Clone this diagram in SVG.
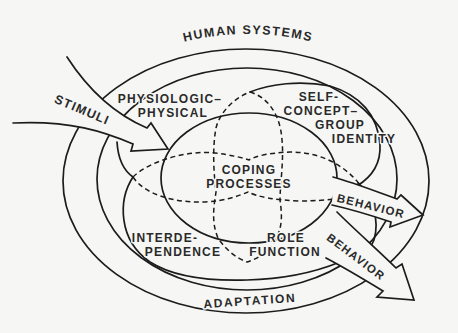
<svg xmlns="http://www.w3.org/2000/svg" width="458" height="333" viewBox="0 0 458 333">
<style>
.ln{fill:none;stroke:#1c1c1c;stroke-width:1.7;stroke-linecap:round}
.ds{fill:none;stroke:#1c1c1c;stroke-width:1.5;stroke-dasharray:5 3.5}
.msk{fill:#f6f6f4;stroke:none}
.lb{font-family:"Liberation Sans",Arial,sans-serif;font-size:12px;font-weight:bold;fill:#2a2a2a;letter-spacing:1.2px;text-anchor:middle;stroke:#f6f6f4;stroke-width:3px;paint-order:stroke;stroke-linejoin:round}
</style>
<rect width="458" height="333" fill="#f6f6f4"/>
<g id="rings">
<ellipse class="ln" cx="246" cy="181" rx="183" ry="132"/>
<ellipse class="ln" cx="247" cy="179" rx="150" ry="111"/>
</g>
<g id="connectors">
<path class="ds" d="M250,92 C264,96 280,110 282,140 C284,160 280,185 280,200 C282,215 284,230 270,248 C262,256 254,260 247,262 C236,258 226,250 218,238 C211,222 214,205 216,192 C214,175 212,150 216,128 C220,112 234,98 250,92 Z"/>
<path class="ds" d="M133,177 C150,160 190,150 215,153 C232,155 243,158 249,160 C256,156 268,153 290,152 C320,152 345,165 360,185"/>
<path class="ds" d="M133,177 C145,195 175,203 205,202 C225,201 238,196 248,192 C258,197 275,200 300,201 C315,201 325,200 335,199"/>
<path class="ln" d="M250,92 C270,84 300,80 330,86 C360,95 378,115 380,145 C381,165 370,178 357,186 L338,197"/>
<path class="ln" d="M117,142 C118,158 123,170 133,177"/>
<path class="ln" d="M133,177 C118,200 118,240 150,262 C175,278 215,281 247,280 C285,279 318,271 340,262"/>
<path class="ln" d="M358,183 C372,195 380,220 374,240 C370,250 365,254 360,256"/>
</g>
<g id="coping">
<ellipse class="ln" cx="249" cy="178" rx="88" ry="65"/>
<text class="lb" x="249" y="174">COPING</text>
<text class="lb" x="249" y="188">PROCESSES</text>
</g>
<g id="stimuli">
<path class="msk" d="M67,57 Q100,108 147,128 L151,123 L168,149 L131,151 L133,144 C105,132 70,120 13,123 Z"/>
<path class="ln" d="M67,57 Q100,108 147,128 L151,123 L168,149 L131,151 L133,144 C105,132 70,120 13,123"/>
<text class="lb" x="82" y="114" transform="rotate(23 82 110)" style="font-size:12.5px">STIMULI</text>
</g>
<g id="behavior1">
<path class="msk" d="M333,177 C355,183 380,193 397,199 L401,195 L423,215 L390,227 L391,222 C370,215 350,209 332,205 Z"/>
<path class="ln" d="M333,177 C355,183 380,193 397,199 L401,195 L423,215 L390,227 L391,222 C370,215 350,209 332,205"/>
<text class="lb" x="371" y="210" transform="rotate(14 371 206)" style="font-size:11.5px">BEHAVIOR</text>
</g>
<g id="behavior2">
<path class="msk" d="M337,212 C355,230 380,252 396,268 L402,264 L414,300 L377,297 L383,291 C365,280 345,268 326,258 Z"/>
<path class="ln" d="M337,212 C355,230 380,252 396,268 L402,264 L414,300 L377,297 L383,291 C365,280 345,268 326,258"/>
<text class="lb" x="356" y="261" transform="rotate(37 356 257)" style="font-size:11.5px">BEHAVIOR</text>
</g>
<g id="physiologic">
<text class="lb" x="170" y="103">PHYSIOLOGIC–</text>
<text class="lb" x="173" y="117">PHYSICAL</text>
</g>
<g id="selfconcept">
<text class="lb" x="319" y="101">SELF-</text>
<text class="lb" x="321" y="115">CONCEPT–</text>
<text class="lb" x="340" y="129">GROUP</text>
<text class="lb" x="364" y="143">IDENTITY</text>
</g>
<g id="interdependence">
<text class="lb" x="165" y="242">INTERDE-</text>
<text class="lb" x="183" y="256">PENDENCE</text>
</g>
<g id="role">
<text class="lb" x="286" y="242">ROLE</text>
<text class="lb" x="285" y="256">FUNCTION</text>
</g>
<g id="labels">
<defs><path id="hs" d="M168,46 Q248,22 328,46"/></defs>
<text class="lb" style="font-size:12.5px;letter-spacing:1.5px"><textPath href="#hs" startOffset="50%">HUMAN SYSTEMS</textPath></text>
<text class="lb" x="250" y="305" transform="rotate(-4 250 303)" style="letter-spacing:1.6px">ADAPTATION</text>
</g>
</svg>
